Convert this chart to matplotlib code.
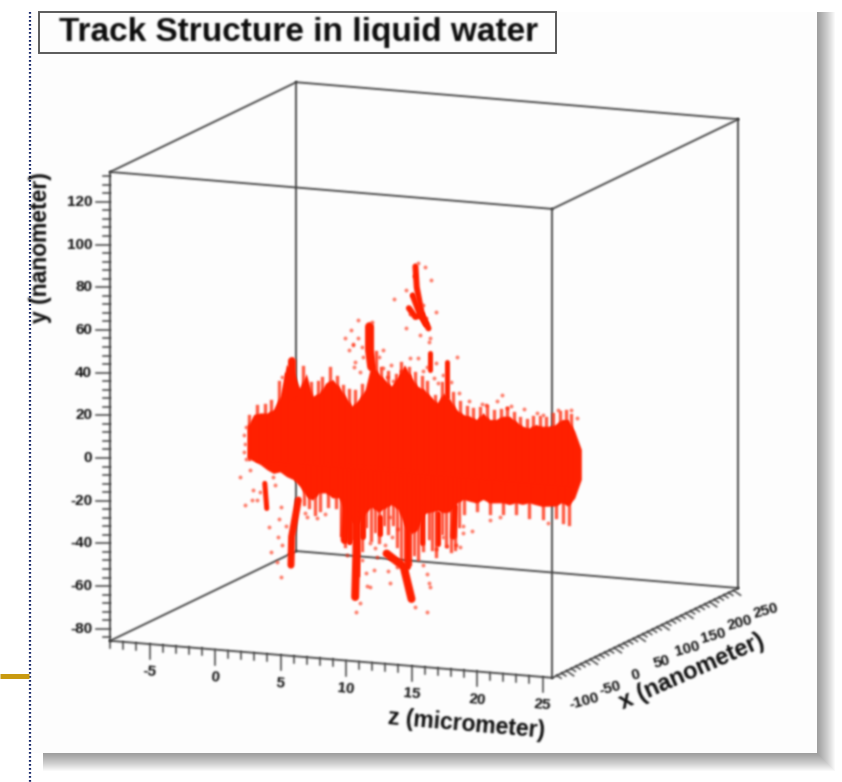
import matplotlib
matplotlib.use('Agg')
import matplotlib.pyplot as plt
from matplotlib.patches import Rectangle
import numpy as np

plt.rcParams['font.family'] = ['Liberation Sans', 'DejaVu Sans']

# axis ranges (z in micrometer, x and y in nanometer)
z_range = [-8.0, 25.75]
y_range = [-85.6, 134.0]
x_range = [-130, 260]

z_ticks = [-5, 0, 5, 10, 15, 20, 25]
y_ticks = [-80, -60, -40, -20, 0, 20, 40, 60, 80, 100, 120]
x_ticks = [-100, -50, 0, 50, 100, 150, 200, 250]

# dense core of the track: upper and lower edge against z
core_z = [2.5, 3, 3.5, 4, 4.5, 5, 5.5, 6, 6.5, 7, 7.5, 8, 8.5, 9, 9.5, 10, 10.5, 11, 11.5, 12,
          12.5, 13, 13.5, 14, 14.5, 15, 15.5, 16, 16.5, 17, 17.5, 18, 18.5, 19, 19.5, 20, 20.5,
          21, 21.5, 22, 22.5, 23, 23.5, 24, 24.5, 25, 25.5, 26, 26.5, 27, 27.5, 28]
core_top = [20, 25.8, 26.8, 27, 29, 35.4, 50.5, 48, 40, 47, 36.7, 38.5, 43.4, 45.3, 42.4, 38,
            33.6, 37, 41.9, 54.6, 50.2, 47.3, 44.5, 49.4, 55, 49.9, 45.5, 44.2, 41.3, 38.5, 43.4,
            40.5, 36, 34, 33.5, 32.2, 35.6, 32.7, 33, 34.8, 35, 33, 30.9, 30.3, 32.2, 31.6, 31.9,
            32.9, 35.5, 35.8, 30.6, 22.3]
core_bottom = [5.2, 3.9, 2.6, 0.5, -1, 0, -2, -3.1, -6, -10.4, -12, -8.4, -8.1, -10.2, -9.9,
               -16, -21, -21, -16, -13, -15, -13, -11, -13, -20, -24, -22,
               -14, -13, -12, -12.8, -12, -7.7, -5.8, -6.4, -6.9, -5, -6.4, -6.1, -5.8,
               -6.4, -5.3, -5.8, -4.8, -5.4, -5.9, -5.6, -5.3, -3.5, -4.8, -0.7, 8.2]

# delta ray branches leaving the core: z, y, width
branch_z = [[15.3, 15.4, 15.8, 16.3], [14.8, 15.3, 15.8], [15.1, 15.6, 16.1], [11.8, 11.8, 11.96], [16.4, 16.4],
            [17.7, 17.7], [5.85, 5.85], [5.8, 5.85, 6.36], [3.8, 3.95], [10.7, 10.8, 10.8], [15, 14.4, 13.1],
            [14.75, 14.75], [9.9, 10], [15.8, 15.8], [17, 17], [18.2, 18.3], [12.6, 12.6], [10.3, 10.3], [11.3, 11.3]]
branch_y = [[101.7, 92, 79.4, 73.2], [81.9, 78, 79.4], [88, 80, 75], [71.7, 60.8, 53], [61.6, 53.8],
            [58.4, 42], [52.5, 35.3], [-43.1, -29.8, -12.3], [-5.8, -17.5], [-55.5, -33.6, -18],
            [-54.2, -39.4, -33.9], [-39.3, -15.8], [-29.2, -12.2], [-27.8, -10.6], [-27.2, -13.1],
            [-23.4, -9.4], [-24.8, -17], [-30, -14], [-27, -14]]
branch_width = [6, 6, 6, 9, 5, 5, 8, 7, 5, 8, 8, 6, 8, 5, 5, 6, 5, 6, 6]

# thin strands growing out of the core: z and the y where each one ends
strand_z = [2.6, 3.2, 3.8, 4.3, 4.9, 5.4, 6.7, 7.3, 7.9, 8.2, 8.8, 9.3, 9.8, 10.2, 10.7, 11.2, 12.3, 12.7,
            13.2, 13.8, 14.2, 14.8, 15.3, 15.8, 16.2, 16.8, 17.3, 18.2, 18.7, 19.2, 19.7, 20.2, 20.8, 21.3,
            21.8, 22.3, 22.8, 23.3, 23.8, 24.3, 24.8, 25.3, 25.8, 26.3, 26.8, 27.2,
            9.6, 9.9, 10.2, 10.5, 10.9, 11.2, 11.5, 11.9, 12.2, 12.5, 12.9, 13.2, 13.6, 13.9, 14.2, 14.5, 14.9,
            15.2, 15.5, 15.9, 16.3, 16.6, 16.9, 17.3, 17.6, 18, 18.3, 18.6, 19, 8, 7.6, 7.2, 8.6, 6.8, 9.2,
            20, 21, 22, 23, 24, 25, 26, 27, 26.6]
strand_end = [25, 30, 31, 33, 42, 46, 50, 43, 44, 46, 51, 47, 43, 41, 41, 44, 60, 53, 51, 50, 56, 54, 52, 50,
              48, 42, 48, 44, 40, 38, 37, 38, 39, 37, 38, 39, 37, 35, 34, 36, 36, 36, 38, 39, 40, 38,
              -27, -32, -30, -28, -45, -33, -22, -28, -24, -29, -20, -24, -20, -30, -37, -42, -38, -33, -35,
              -31, -25, -30, -33, -22, -28, -30, -29, -18, -12, -16, -18, -15, -14, -14, -14,
              -10, -11, -10.5, -10, -11, -11, -10, -13, -12]

# isolated hits around the track
hit_z = [15.5, 16, 16.5, 14.6, 13.7, 16.9, 14.6, 15.65, 16.4, 10.4, 9.9, 10.9, 12, 10.56, 10.7, 12.85,
         13.4, 14.9, 15.5, 16.9, 18.45, 17, 5.1, 21.9, 20.7, 22.3, 27.2, 25, 1.9, 2.67, 2.9, 2.8, 2.3,
         4.45, 5, 4.1, 4.84, 4.3, 5, 7.25, 6.87, 8.8, 11.8, 13.36, 12.1, 11.8, 11.07, 16.16, 16.4,
         15.27, 16.16, 10.8, 18.96, 18.7, 21.76, 21, 25.45, 17.43, 13.36, 13.87,
         2.2, 2.3, 2.25, 2.4, 2.35, 10.2, 10.5, 10.9, 11.2, 11.3, 10.6, 11.1, 12.5, 12.8, 13.1, 13.6, 14.2,
         14.8, 15.9, 16.2, 16.7, 15, 14.9, 15.9, 16.1, 16.3, 15.2, 17.4, 18, 18.6, 19.4, 20.4, 21.5, 22.6,
         23.6, 24.6, 26.2, 27.6, 4.6, 3.2, 3.4, 4.9, 5.4, 5.1, 4.7, 7, 7.8, 8.4, 11.2, 11.5, 10.1, 11.6,
         12.2, 12.4, 13, 13.5, 14, 13.4, 13.2, 15.9, 16.3, 16.9, 17.7, 18.4, 18.9, 19.6]
hit_y = [103.3, 102, 96, 90.4, 85.5, 81.4, 72.4, 69.8, 68.6, 69.5, 65.3, 74.4, 74.2, 62.5, 54.8, 61.3,
         54.5, 58.4, 58.8, 57.2, 61, 47.9, 44.8, 44.9, 39.6, 38.8, 40.6, 37.1, -3.7, -0.2, -9.4, -14.2,
         -16.8, -2.3, -16.2, -26, -30.3, -37.6, -49, -10.3, -18.3, -6.4, -29.8, -16.6, -42.2, -50.2,
         -58.3, -41.7, -47.8, -57.7, -59.6, -62.4, -21.5, -27.8, -12.2, -14.2, -13.4, -23.8, -47.8, -39.7,
         8, 12, 16, 20, 5, 60, 63, 66, 62, 57, 52, 50, 58, 53, 49, 47, 52, 50, 53, 55, 50, 88, 79, 84, 78,
         67, 97, 52, 49, 44, 41, 40, 42, 40, 39, 38, 40, 37, -6, -14, -10, -22, -25, -34, -42, -20, -20,
         -18, -38, -44, -36, -50, -32, -36, -30, -26, -22, -36, -42, -38, -46, -30, -28, -27, -18, -20]


def project(z, y, x=x_range[0]):
    # oblique view of the box, result in figure pixels
    z = np.asarray(z, dtype=float)
    y = np.asarray(y, dtype=float)
    d = x - x_range[0]
    px = 215 + 13.1 * z
    py = 458 + 0.0837 * (px - 110) - 2.135 * y
    return px + 0.477 * d, py - 0.23 * d


def soften(img, dpi):
    # the reference is a blurry screenshot
    pad = 4
    alpha = np.pad(img[:, :, 3], pad)
    rgb = np.pad(img[:, :, :3], ((pad, pad), (pad, pad), (0, 0))) * alpha[:, :, None]
    weights = {-2: 0.06, -1: 0.24, 0: 0.40, 1: 0.24, 2: 0.06}
    for axis in (0, 1):
        alpha = sum(w * np.roll(alpha, s, axis) for s, w in weights.items())
        rgb = sum(w * np.roll(rgb, s, axis) for s, w in weights.items())
    out = np.dstack([rgb / np.maximum(alpha, 1e-4)[:, :, None], alpha])
    return np.clip(out, 0, 1), -pad, -pad


fig = plt.figure(figsize=(8.42, 7.82), dpi=100)
ax = fig.add_axes([0, 0, 1, 1])
ax.set_xlim(0, 842)
ax.set_ylim(782, 0)
ax.axis('off')

# drop shadow and page furniture
for k in range(1, 19):
    ax.add_patch(Rectangle((43, 12), 774 + k, 741 + k, facecolor='black', edgecolor='none', alpha=0.024, zorder=1))
ax.add_patch(Rectangle((31, 12), 786, 741, facecolor='#fdfdfd', edgecolor='none', zorder=2))
ax.plot([30, 30], [12, 782], color='#1a2a6c', lw=1.6, ls=(0, (0.8, 1.0)), zorder=3)
ax.plot([0, 29], [676, 676], color='#c99a10', lw=3.6, solid_capstyle='butt', zorder=3)

soft = []
line_color = '#3c3c3c'
text_color = '#0c0c0c'


def segment(z, y, x, lw=1.3, color=line_color):
    px, py = zip(*[project(a, b, c) for a, b, c in zip(z, y, x)])
    soft.extend(ax.plot(px, py, color=color, lw=lw, zorder=4, solid_capstyle='round'))


# box edges
z0, z1 = z_range
y0, y1 = y_range
x0, x1 = x_range
for yy in (y0, y1):
    segment([z0, z1], [yy, yy], [x0, x0])
    segment([z0, z1], [yy, yy], [x1, x1])
    segment([z0, z0], [yy, yy], [x0, x1])
    segment([z1, z1], [yy, yy], [x0, x1])
for zz, xx in ((z0, x0), (z1, x0), (z0, x1), (z1, x1)):
    segment([zz, zz], [y0, y1], [xx, xx])

# y axis ticks
for v in np.arange(-84, 133, 4):
    length = 14 if v % 20 == 0 else 7
    px, py = project(z0, v)
    soft.extend(ax.plot([px - length, px], [py, py], color=line_color, lw=1.1, zorder=4))
for v in y_ticks:
    px, py = project(z0, v)
    soft.append(ax.text(px - 18, py, str(v), ha='right', va='center', fontsize=11, fontweight='bold',
                        color=text_color, zorder=5))

# z axis ticks
for v in np.arange(-8, 26, 1):
    length = 15 if v % 5 == 0 else 7
    px, py = project(v, y0)
    soft.extend(ax.plot([px, px], [py, py + length], color=line_color, lw=1.1, zorder=4))
for v in z_ticks:
    px, py = project(v, y0)
    soft.append(ax.text(px, py + 28, str(v), ha='center', va='center', rotation=-5, fontsize=11,
                        fontweight='bold', color=text_color, zorder=5))

# x axis ticks
for v in np.arange(-120, 260, 10):
    length = 7 if v % 50 == 0 else 4
    px, py = project(z1, y0, v)
    soft.extend(ax.plot([px, px + length], [py, py + 0.7 * length], color=line_color, lw=1.1, zorder=4))
for v in x_ticks:
    px, py = project(z1, y0, v)
    frac = (v + 100) / 350
    soft.append(ax.text(px + 17 + 15 * frac, py + 30 - 10 * frac, str(v), ha='center', va='center', rotation=15,
                        fontsize=11, fontweight='bold', color=text_color, zorder=5))

# axis titles
soft.append(ax.text(41, 248, 'y (nanometer)', rotation=90, ha='center', va='center', fontsize=16.5,
                    fontweight='bold', color=text_color, zorder=5))
soft.append(ax.text(466, 724, 'z (micrometer)', rotation=-5, ha='center', va='center', fontsize=16.5,
                    fontweight='bold', color=text_color, zorder=5))
soft.append(ax.text(692, 672, 'x (nanometer)', rotation=24, ha='center', va='center', fontsize=17,
                    fontweight='bold', color=text_color, zorder=5, rotation_mode='anchor'))

# the track itself
red = '#ff2000'
top_px, top_py = project(core_z, core_top)
bot_px, bot_py = project(core_z, core_bottom)
soft.extend(ax.fill(np.r_[top_px, bot_px[::-1]], np.r_[top_py, bot_py[::-1]], color=red, lw=0, zorder=6))
for zs, ys, w in zip(branch_z, branch_y, branch_width):
    px, py = project(zs, ys)
    soft.extend(ax.plot(px, py, color=red, lw=w * 0.72, zorder=6, solid_capstyle='round'))
for zs, end in zip(strand_z, strand_end):
    px, py = project([zs, zs], [5, end])
    soft.extend(ax.plot(px, py, color=red, lw=2.4, alpha=0.75, zorder=6))
hit_px, hit_py = project(hit_z, hit_y)
soft.extend(ax.plot(hit_px, hit_py, ls='none', marker='o', ms=2.8, mew=0, color=red, alpha=0.6, zorder=6))

# title box
ax.add_patch(Rectangle((39, 12), 517, 41, facecolor='#fdfdfd', edgecolor='#5a5a5a', lw=1.4, zorder=7))
soft.append(ax.text(59, 33, 'Track Structure in liquid water', ha='left', va='center', fontsize=24,
                    fontweight='bold', color=text_color, zorder=8))

for artist in soft:
    artist.set_agg_filter(soften)

fig.savefig('out.png', dpi=100)
